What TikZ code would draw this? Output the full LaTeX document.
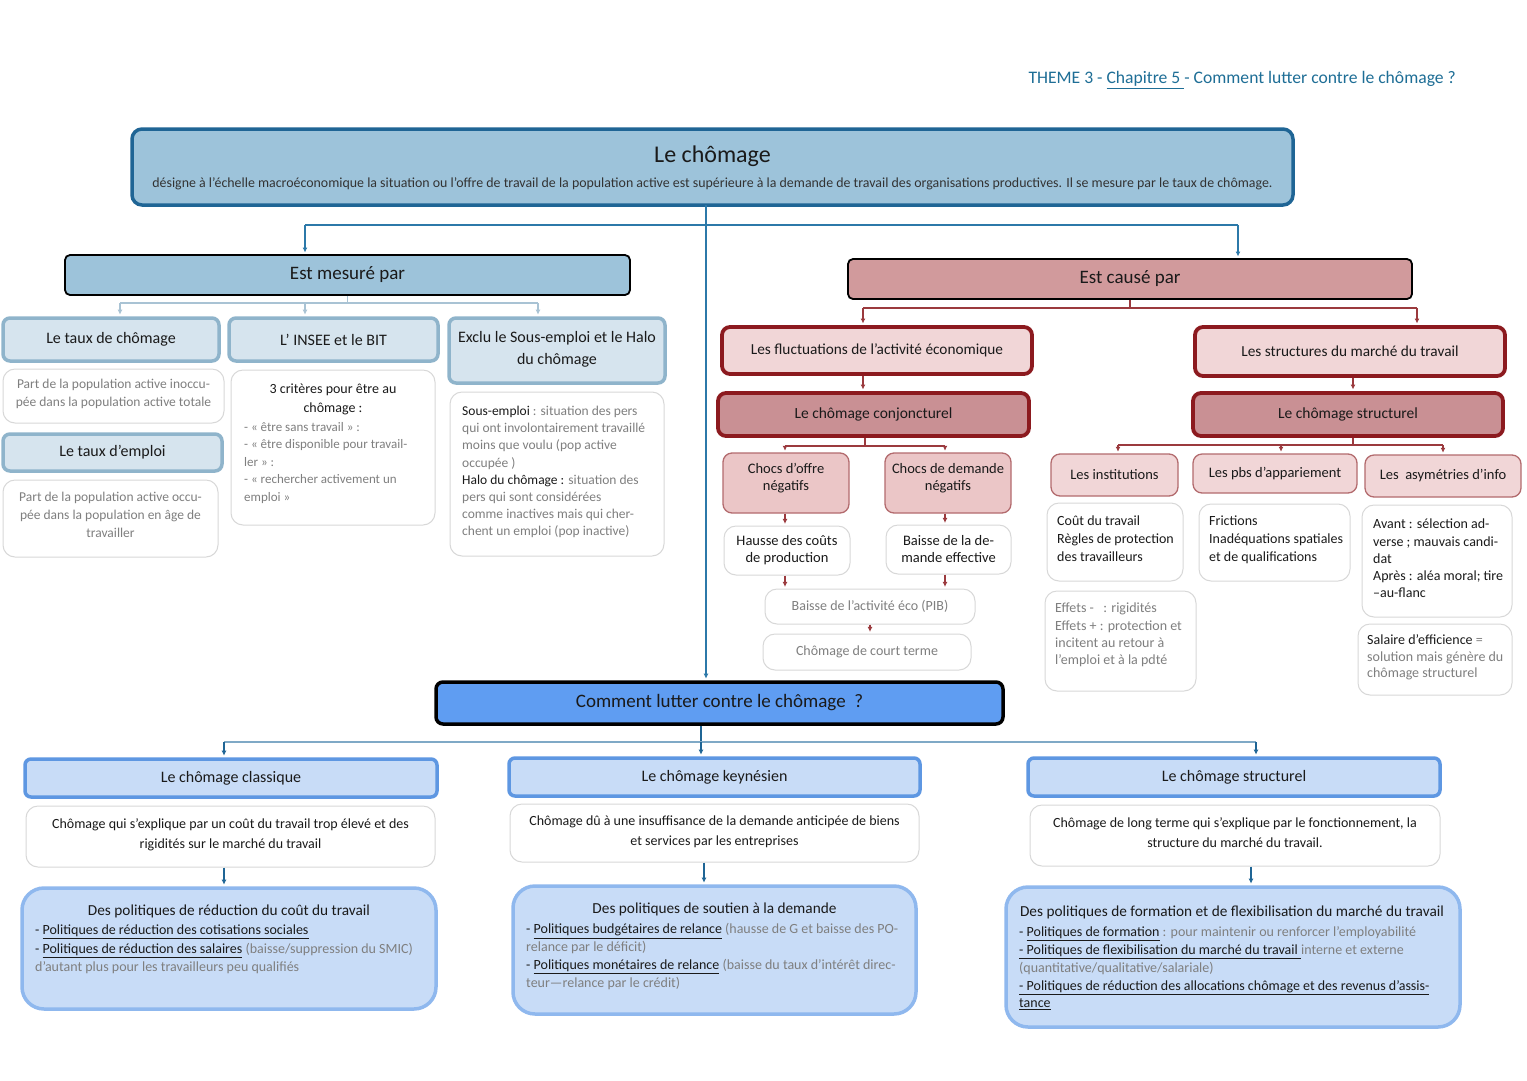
\documentclass[tikz,border=0pt]{standalone}
\usepackage{fontspec}
\setmainfont{Carlito}
\usetikzlibrary{arrows.meta}
\definecolor{mainfill}{HTML}{9DC3DA}
\definecolor{mainborder}{HTML}{1F6595}
\definecolor{headc}{HTML}{1E6E96}
\definecolor{trunk}{HTML}{2C79A9}
\definecolor{causefill}{HTML}{D19A9C}
\definecolor{lbfill}{HTML}{D6E4EE}
\definecolor{lbborder}{HTML}{8FB4CB}
\definecolor{lightline}{HTML}{A9C3D4}
\definecolor{wborder}{HTML}{D8D8D8}
\definecolor{pinkfill}{HTML}{F1D6D7}
\definecolor{rosefill}{HTML}{C99094}
\definecolor{redborder}{HTML}{8C1A1F}
\definecolor{chocfill}{HTML}{EBC6C7}
\definecolor{chocborder}{HTML}{B36B6E}
\definecolor{redline}{HTML}{9B3A3E}
\definecolor{qfill}{HTML}{5F9DF2}
\definecolor{bfill}{HTML}{C8DCF7}
\definecolor{bborder}{HTML}{5E97E2}
\definecolor{pborder}{HTML}{8FB8EE}
\definecolor{bline}{HTML}{7FA9C6}
\definecolor{tblack}{HTML}{1A1A1A}
\definecolor{tgray}{HTML}{7F7F7F}
\newcommand\fsz[2]{\fontsize{#1}{#2}\selectfont}
\begin{document}
\begin{tikzpicture}[x=1pt,y=-1pt,
  every node/.style={inner sep=0pt, text=tblack},
  mainbox/.style={fill=mainfill, draw=mainborder, line width=3.5pt, rounded corners=10pt},
  hdrblue/.style={fill=mainfill, draw=black, line width=1.8pt, rounded corners=5pt},
  hdrred/.style={fill=causefill, draw=black, line width=1.8pt, rounded corners=5pt},
  lvlblue/.style={fill=lbfill, draw=lbborder, line width=3.5pt, rounded corners=7pt},
  wbox/.style={fill=white, draw=wborder, line width=1pt, rounded corners=12pt},
  redlight/.style={fill=pinkfill, draw=redborder, line width=3.8pt, rounded corners=8pt},
  reddark/.style={fill=rosefill, draw=redborder, line width=3.8pt, rounded corners=8pt},
  chocbox/.style={fill=chocfill, draw=chocborder, line width=1.3pt, rounded corners=9pt},
  qbox/.style={fill=qfill, draw=black, line width=3.5pt, rounded corners=7pt},
  bhead/.style={fill=bfill, draw=bborder, line width=3.5pt, rounded corners=6pt},
  polbox/.style={fill=bfill, draw=pborder, line width=3.5pt, rounded corners=22pt},
  gtxt/.style={text=tgray},
  myarrow/.style={-{Latex[length=5pt,width=5pt]}, shorten >=1.6pt},
  trunkc/.style={draw=trunk, line width=1.3pt},
  lightc/.style={draw=lightline, line width=1.1pt},
  redc/.style={draw=redline, line width=1.1pt},
  bluec/.style={draw=bline, line width=1.2pt},
  darkc/.style={draw=mainborder, line width=1.6pt},
  ltxt/.style={align=left, anchor=west},
  ctxt/.style={align=center}
]
\useasboundingbox[fill=white] (0,0) rectangle (1527,1080);

\node[anchor=east, text=headc] (hdr) at (1456,80) {\fsz{17.6}{20}THEME 3 - \underline{Chapitre 5 }- Comment lutter contre le chômage ?};

% main
\node[mainbox, minimum width=1161, minimum height=76] (main) at (712.5,167) {};
\node (maint) at (712.5,156) {\fsz{24}{26}Le chômage};
\node[text=black!80] (mainsub) at (712.5,184) {\fsz{13.9}{15}désigne à l'échelle macroéconomique la situation ou l'offre de travail de la population active est supérieure à la demande de travail des organisations productives. Il se mesure par le taux de chômage.};

\node[hdrblue, minimum width=565, minimum height=40] (mes) at (347.5,275) {\fsz{19}{21}Est mesuré par};
\node[hdrred, minimum width=564, minimum height=40] (cau) at (1130,279) {\fsz{19}{21}Est causé par};

% left part
\node[lvlblue, minimum width=216, minimum height=43] (taux) at (111,339.5) {\fsz{16}{18}Le taux de chômage};
\node[lvlblue, minimum width=209, minimum height=43] (insee) at (333.5,339.5) {\fsz{16}{18}L' INSEE et le BIT};
\node[lvlblue, minimum width=216, minimum height=65] (exclu) at (557,350.5) {};
\node[ctxt, font=\fsz{16}{22}] (exclut) at (557,349) {Exclu le Sous-emploi et le Halo\\du chômage};

\node[wbox, minimum width=221, minimum height=54] (tauxd) at (113.5,396) {};
\node[ctxt, gtxt, font=\fsz{13.5}{18}] (tauxdt) at (113.5,394) {Part de la population active inoccu-\\pée dans la population active totale};
\node[lvlblue, minimum width=219, minimum height=37] (emploi) at (112.5,452.5) {\fsz{16}{18}Le taux d'emploi};
\node[wbox, minimum width=215, minimum height=77] (emploid) at (110.5,518.5) {};
\node[ctxt, gtxt, font=\fsz{13.5}{18}] (emploidt) at (110.5,515) {Part de la population active occu-\\pée dans la population en âge de\\travailler};

\node[wbox, minimum width=204, minimum height=155] (inseed) at (333,447.5) {};
\node[ctxt, font=\fsz{14}{19}] (inseedt) at (333,399.5) {3 critères pour être au\\chômage :};
\node[ltxt, gtxt, font=\fsz{13}{17.5}] (inseedl) at (244,463) {- « être sans travail » :\\- « être disponible pour travail-\\ler » :\\- « rechercher activement un\\emploi »};

\node[wbox, minimum width=214, minimum height=164] (exclud) at (557,474) {};
\node[ltxt, gtxt, font=\fsz{13.5}{17.15}] (excludt) at (462,472) {\textcolor{tblack}{Sous-emploi} : situation des pers\\qui ont involontairement travaillé\\moins que voulu (pop active\\occupée )\\\textcolor{tblack}{Halo du chômage :} situation des\\pers qui sont considérées\\comme inactives mais qui cher-\\chent un emploi (pop inactive)};

% right part
\node[redlight, minimum width=310, minimum height=47] (fluct) at (877,350.5) {\fsz{15.3}{18}Les fluctuations de l'activité économique};
\node[redlight, minimum width=310, minimum height=49] (struct) at (1350,351.5) {\fsz{15.3}{18}Les structures du marché du travail};
\node[reddark, minimum width=311, minimum height=43] (conj) at (873.5,414.5) {\fsz{15.5}{18}Le chômage conjoncturel};
\node[reddark, minimum width=310, minimum height=43] (structl) at (1348,414.5) {\fsz{15.5}{18}Le chômage structurel};

\node[chocbox, minimum width=126, minimum height=60] (chocO) at (786,483) {};
\node[ctxt, font=\fsz{14.5}{17}] (chocOt) at (786,478.5) {Chocs d'offre\\négatifs};
\node[chocbox, minimum width=126, minimum height=60] (chocD) at (948,483) {};
\node[ctxt, font=\fsz{14.5}{17}] (chocDt) at (948,478.5) {Chocs de demande\\négatifs};
\node[wbox, minimum width=126, minimum height=49] (hausse) at (787,550.5) {};
\node[ctxt, font=\fsz{14.5}{17}] (hausset) at (787,550.5) {Hausse des coûts\\de production};
\node[wbox, minimum width=125, minimum height=49] (baisseD) at (948.5,549.5) {};
\node[ctxt, font=\fsz{14.5}{17}] (baisseDt) at (948.5,549.5) {Baisse de la de-\\mande effective};
\node[wbox, gtxt, minimum width=210, minimum height=35] (pib) at (870,606.5) {\fsz{14}{16}Baisse de l'activité éco (PIB)};
\node[wbox, gtxt, minimum width=208, minimum height=36] (court) at (867,652) {\fsz{14}{16}Chômage de court terme};

\node[chocbox, fill=pinkfill, minimum width=127, minimum height=42] (inst) at (1114.5,475) {\fsz{14.5}{17}Les institutions};
\node[chocbox, fill=pinkfill, minimum width=164, minimum height=39] (pbs) at (1275,473.5) {\fsz{14.5}{17}Les pbs d'appariement};
\node[chocbox, fill=pinkfill, minimum width=156, minimum height=42] (asym) at (1443,476) {\fsz{14.5}{17}Les~~asymétries d'info};

\node[wbox, minimum width=136, minimum height=78] (instd) at (1115,542) {};
\node[ltxt, font=\fsz{14}{18}] (instdt) at (1057,539) {Coût du travail\\Règles de protection\\des travailleurs};
\node[wbox, minimum width=151, minimum height=77] (pbsd) at (1274.5,542.5) {};
\node[ltxt, font=\fsz{14}{18}] (pbsdt) at (1209,540) {Frictions\\Inadéquations spatiales\\et de qualifications};
\node[wbox, minimum width=150, minimum height=112] (asymd) at (1437,561) {};
\node[ltxt, font=\fsz{14}{17.3}] (asymdt) at (1373,558.5) {Avant : sélection ad-\\verse ; mauvais candi-\\dat\\Après : aléa moral; tire\\–au-flanc};
\node[wbox, minimum width=151, minimum height=100] (effets) at (1120.5,641) {};
\node[ltxt, gtxt, font=\fsz{14}{17.3}] (effetst) at (1055,635) {Effets -~~ : rigidités\\Effets + : protection et\\incitent au retour à\\l'emploi et à la pdté};
\node[wbox, minimum width=154, minimum height=71] (sal) at (1435,659.5) {};
\node[ltxt, gtxt, font=\fsz{14}{16.5}] (salt) at (1367,657.5) {\textcolor{tblack}{Salaire d'efficience} =\\solution mais génère du\\chômage structurel};

% question
\node[qbox, minimum width=567, minimum height=42] (q) at (719.5,703) {\fsz{19}{21}Comment lutter contre le chômage~~?};

% bottom
\node[bhead, minimum width=412, minimum height=38] (cla) at (231,778) {\fsz{16}{18}Le chômage classique};
\node[bhead, minimum width=411, minimum height=38] (key) at (714.5,777) {\fsz{16}{18}Le chômage keynésien};
\node[bhead, minimum width=412, minimum height=38] (stb) at (1234,777) {\fsz{16}{18}Le chômage structurel};

\node[wbox, minimum width=409, minimum height=61] (clad) at (230.5,836.5) {};
\node[ctxt, font=\fsz{14}{20}] (cladt) at (230.5,835) {Chômage qui s'explique par un coût du travail trop élevé et des\\rigidités sur le marché du travail};
\node[wbox, minimum width=409, minimum height=58] (keyd) at (714.5,833) {};
\node[ctxt, font=\fsz{14}{20}] (keydt) at (714.5,832) {Chômage dû à une insuffisance de la demande anticipée de biens\\et services par les entreprises};
\node[wbox, minimum width=410, minimum height=61] (stbd) at (1235,835.5) {};
\node[ctxt, font=\fsz{14}{20}] (stbdt) at (1235,833) {Chômage de long terme qui s'explique par le fonctionnement, la\\structure du marché du travail.};

\node[polbox, minimum width=414, minimum height=121] (clap) at (229,948.5) {};
\node (clapt) at (229,911) {\fsz{15.3}{18}Des politiques de réduction du coût du travail};
\node[ltxt, gtxt, font=\fsz{14}{18.5}] (clapl) at (35,949.5) {\textcolor{tblack}{- \underline{Politiques de réduction des cotisations sociales}}\\\textcolor{tblack}{- \underline{Politiques de réduction des salaires}} (baisse/suppression du SMIC)\\d'autant plus pour les travailleurs peu qualifiés};

\node[polbox, minimum width=403, minimum height=128] (keyp) at (714.5,950) {};
\node (keypt) at (714.5,909) {\fsz{15.3}{18}Des politiques de soutien à la demande};
\node[ltxt, gtxt, font=\fsz{14}{17.7}] (keypl) at (526,956.5) {\textcolor{tblack}{- \underline{Politiques budgétaires de relance}} (hausse de G et baisse des PO-\\relance par le déficit)\\\textcolor{tblack}{- \underline{Politiques monétaires de relance}} (baisse du taux d'intérêt direc-\\teur—relance par le crédit)};

\node[polbox, minimum width=454, minimum height=140] (stbp) at (1233,957) {};
\node (stbpt) at (1232,912) {\fsz{15.3}{18}Des politiques de formation et de flexibilisation du marché du travail};
\node[ltxt, gtxt, font=\fsz{14}{17.8}] (stbpl) at (1019,968.5) {\textcolor{tblack}{- \underline{Politiques de formation}} : pour maintenir ou renforcer l'employabilité\\\textcolor{tblack}{\underline{- Politiques de flexibilisation du marché du travail }}interne et externe\\(quantitative/qualitative/salariale)\\\textcolor{tblack}{\underline{- Politiques de réduction des allocations chômage et des revenus d'assis-}}\\\textcolor{tblack}{\underline{tance}}};

% connectors: top trunk
\coordinate (t0) at (706,205);
\coordinate (t1) at (706,225);
\coordinate (tl) at (305,225);
\coordinate (tr) at (1238,225);
\draw[trunkc, myarrow] (t0) -- (t0 |- q.north);
\draw[trunkc] (tl) -- (tr);
\draw[trunkc, myarrow] (tl) -- (tl |- mes.north);
\draw[trunkc, myarrow] (tr) -- (tr |- cau.north);

% measured branch
\coordinate (m0) at (347.5,303);
\coordinate (ma) at (120,303);
\coordinate (mb) at (305,303);
\coordinate (mc) at (538,303);
\draw[lightc] (mes.south) -- (m0);
\draw[lightc] (ma) -- (mc);
\draw[lightc, myarrow] (ma) -- (ma |- taux.north);
\draw[lightc, myarrow] (mb) -- (mb |- insee.north);
\draw[lightc, myarrow] (mc) -- (mc |- exclu.north);

% caused branch
\coordinate (c0) at (1130,308);
\coordinate (ca) at (863,308);
\coordinate (cb) at (1417,308);
\draw[redc] (cau.south) -- (c0);
\draw[redc] (ca) -- (cb);
\draw[redc, myarrow] (ca) -- (ca |- fluct.north);
\draw[redc, myarrow] (cb) -- (cb |- struct.north);
\coordinate (fx) at (863,374);
\draw[redc, myarrow] (fluct.south -| fx) -- (fx |- conj.north);
\coordinate (sx) at (1353,376);
\draw[redc, myarrow] (struct.south -| sx) -- (sx |- structl.north);

\coordinate (k0) at (865,446);
\coordinate (ka) at (785,446);
\coordinate (kb) at (945,446);
\draw[redc] (conj.south -| k0) -- (k0);
\draw[redc] (ka) -- (kb);
\draw[redc, myarrow] (ka) -- (ka |- chocO.north);
\draw[redc, myarrow] (kb) -- (kb |- chocD.north);
\draw[redc, myarrow] (chocO.south -| ka) -- (ka |- hausse.north);
\draw[redc, myarrow] (chocD.south -| kb) -- (kb |- baisseD.north);
\draw[redc, myarrow] (hausse.south -| ka) -- (ka |- pib.north);
\draw[redc, myarrow] (baisseD.south -| kb) -- (kb |- pib.north);
\coordinate (px) at (870,624);
\draw[redc, myarrow] (pib.south -| px) -- (px |- court.north);

\coordinate (s0) at (1353,445);
\coordinate (sa) at (1118,445);
\coordinate (sb) at (1281,445);
\coordinate (sc) at (1443,445);
\draw[redc] (structl.south -| s0) -- (s0);
\draw[redc] (sa) -- (sc);
\draw[redc, myarrow] (sa) -- (sa |- inst.north);
\draw[redc, myarrow] (sb) -- (sb |- pbs.north);
\draw[redc, myarrow] (sc) -- (sc |- asym.north);

% bottom branch
\coordinate (b0) at (701,742);
\coordinate (ba) at (224,742);
\coordinate (bc) at (1256,742);
\draw[darkc] (q.south -| b0) -- (b0);
\draw[bluec] (ba) -- (bc);
\draw[darkc, myarrow] (b0) -- (b0 |- key.north);
\draw[darkc, myarrow] (ba) -- (ba |- cla.north);
\draw[darkc, myarrow] (bc) -- (bc |- stb.north);
\coordinate (d1) at (224,867);
\coordinate (d2) at (704,864);
\coordinate (d3) at (1251,866);
\draw[darkc, myarrow] (clad.south -| d1) -- (d1 |- clap.north);
\draw[darkc, myarrow] (keyd.south -| d2) -- (d2 |- keyp.north);
\draw[darkc, myarrow] (stbd.south -| d3) -- (d3 |- stbp.north);
\end{tikzpicture}
\end{document}
